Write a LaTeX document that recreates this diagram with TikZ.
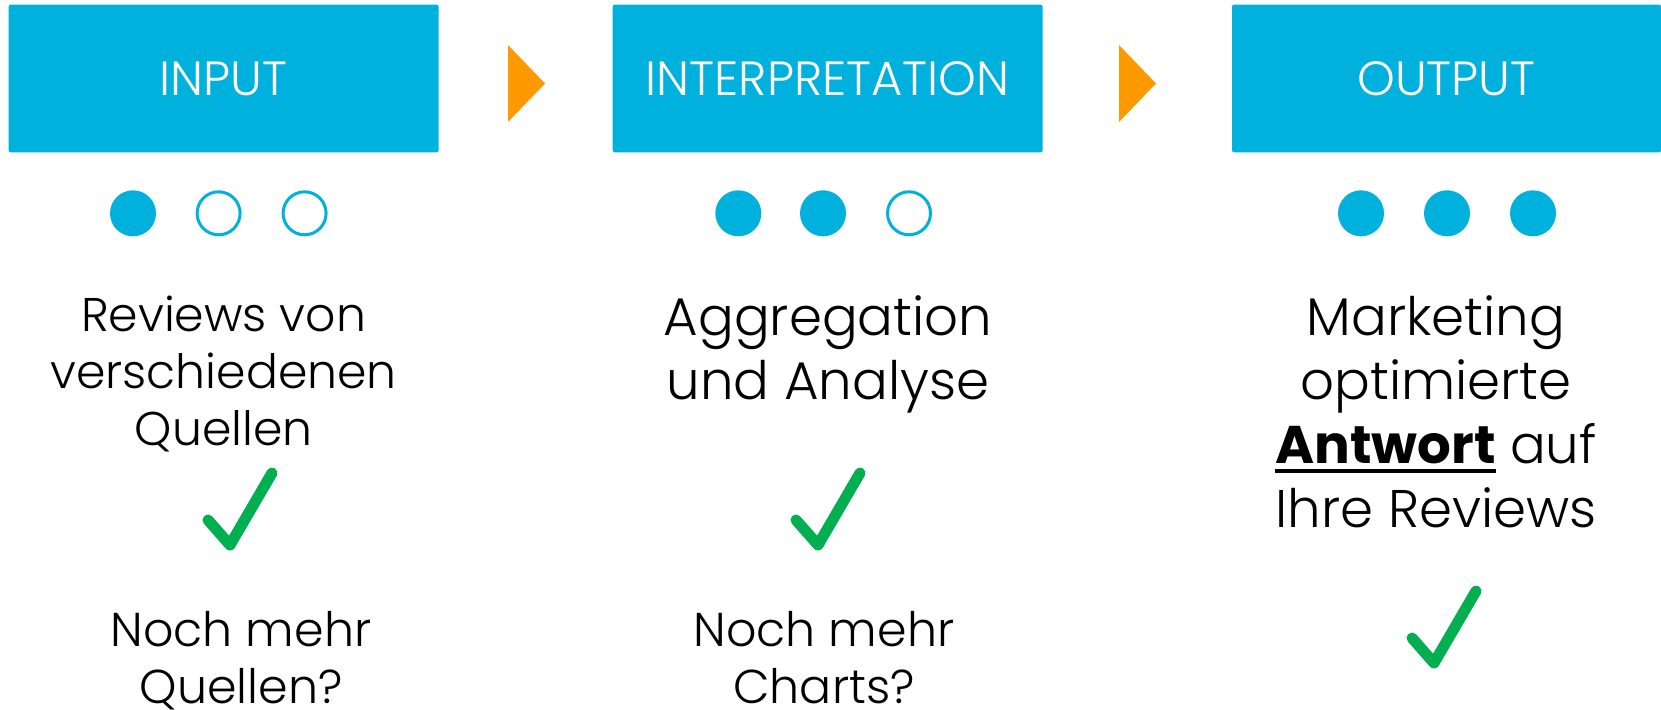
\documentclass[tikz,border=0pt]{standalone}
\usepackage{fontspec}
\setmainfont{Poppins}[UprightFont=* Light, BoldFont=* Bold]
\usepackage{xcolor}
\definecolor{kopfblau}{HTML}{00B1DD}
\definecolor{pfeilorange}{HTML}{FF9900}
\definecolor{hakengruen}{HTML}{00B050}

\newcommand{\unterstrich}[1]{\setbox0\hbox{#1}\rlap{\rule[-9pt]{\wd0}{4pt}}\box0\relax}

\begin{document}
\begin{tikzpicture}[x=1pt, y=-1pt,
    kopf/.style={rectangle, fill=kopfblau, rounded corners=2pt, minimum width=430pt,
      minimum height=147.6pt, inner sep=0pt, text=white, font=\fontsize{48}{48}\selectfont},
    punktvoll/.style={circle, fill=kopfblau, minimum size=46pt, inner sep=0pt},
    punktleer/.style={circle, draw=kopfblau, line width=3pt, fill=white, minimum size=43pt, inner sep=0pt},
    textklein/.style={anchor=base, inner sep=0pt, font=\fontsize{47.3}{57}\selectfont},
    textgross/.style={anchor=base, inner sep=0pt, font=\fontsize{53}{64}\selectfont},
    textfrage/.style={anchor=base, inner sep=0pt, font=\fontsize{47.5}{56.3}\selectfont},
    haken/.pic={\draw[hakengruen, line width=11pt, line cap=round, line join=round]
      (-22,-25) -- (0,0) -- (42,-72);}]
  \useasboundingbox (0,0) rectangle (1661,709);

  \node (input) [kopf] at (223.6, 78.5) {INPUT};
  \node (interp) [kopf] at (827.7, 78.5) {INTERPRETATION};
  \node (output) [kopf, minimum width=429pt] at (1446.5, 78.5) {OUTPUT};

  \fill[pfeilorange] (508,45) -- (545,83.5) -- (508,122) -- cycle;
  \fill[pfeilorange] (1119,45) -- (1156,83.5) -- (1119,122) -- cycle;

  \node (p11) [punktvoll] at (133, 213.3) {};
  \node (p12) [punktleer] at (218.6, 213.3) {};
  \node (p13) [punktleer] at (304.6, 213.3) {};
  \node (p21) [punktvoll] at (738.3, 213.3) {};
  \node (p22) [punktvoll] at (823, 213.3) {};
  \node (p23) [punktleer] at (909, 213.3) {};
  \node (p31) [punktvoll] at (1361, 213.3) {};
  \node (p32) [punktvoll] at (1447, 213.3) {};
  \node (p33) [punktvoll] at (1533, 213.3) {};

  \node (inputtext) [textklein] at (223.6, 331.7) {
    \begin{tabular}[t]{c}
      Reviews von \\
      verschiedenen \\
      Quellen
    \end{tabular}
  };
  \node (interptext) [textgross] at (828, 335.7) {
    \begin{tabular}[t]{c}
      Aggregation \\
      und Analyse
    \end{tabular}
  };
  \node (outputtext) [textgross] at (1436, 335.7) {
    \begin{tabular}[t]{c}
      Marketing \\
      optimierte \\
      \unterstrich{\textbf{Antwort}} auf \\
      Ihre Reviews
    \end{tabular}
  };

  \pic at (230, 545) {haken};
  \pic at (818, 545) {haken};
  \pic at (1434, 663) {haken};

  \node (inputfrage) [textfrage] at (241, 646.7) {
    \begin{tabular}[t]{c}
      Noch mehr \\
      Quellen?
    \end{tabular}
  };
  \node (interpfrage) [textfrage] at (824, 646.7) {
    \begin{tabular}[t]{c}
      Noch mehr \\
      Charts?
    \end{tabular}
  };
\end{tikzpicture}
\end{document}
